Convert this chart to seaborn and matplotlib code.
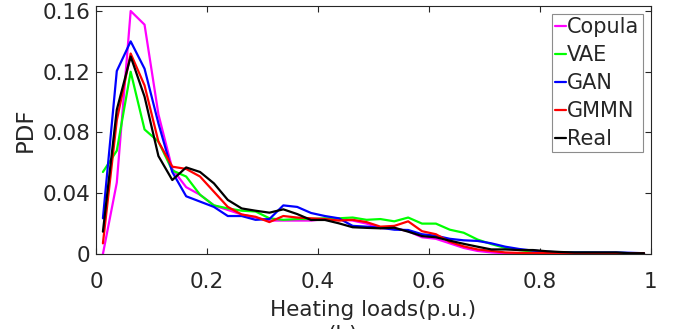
import numpy as np
import pandas as pd
import matplotlib
matplotlib.use("Agg")
import matplotlib.pyplot as plt
import seaborn as sns

# bin centres of the heating load histogram (40 bins on [0, 1])
load = np.arange(40) * 0.025 + 0.0125

copula = [0.000, 0.047, 0.160, 0.151, 0.092, 0.056, 0.044, 0.039, 0.032, 0.029,
          0.026, 0.024, 0.022, 0.022, 0.022, 0.022, 0.023, 0.023, 0.022, 0.020,
          0.017, 0.017, 0.015, 0.011, 0.010, 0.007, 0.004, 0.002, 0.001, 0.0005,
          0.0005, 0.0005, 0.0005, 0.0005, 0.0005, 0.0005, 0.0005, 0.0005, 0.0004, 0.0003]
vae = [0.054, 0.068, 0.120, 0.082, 0.074, 0.055, 0.051, 0.039, 0.032, 0.030,
       0.0285, 0.028, 0.0235, 0.0225, 0.023, 0.023, 0.0235, 0.0235, 0.024, 0.0225,
       0.023, 0.0215, 0.024, 0.020, 0.020, 0.016, 0.014, 0.0095, 0.0065, 0.004,
       0.0026, 0.0015, 0.001, 0.001, 0.001, 0.001, 0.0008, 0.0008, 0.0005, 0.0005]
gan = [0.0235, 0.1205, 0.140, 0.122, 0.086, 0.054, 0.038, 0.0345, 0.031, 0.025,
       0.025, 0.0225, 0.023, 0.032, 0.031, 0.027, 0.025, 0.0235, 0.0185, 0.018,
       0.0173, 0.016, 0.0158, 0.013, 0.012, 0.010, 0.009, 0.0086, 0.007, 0.0048,
       0.0033, 0.0022, 0.0015, 0.001, 0.001, 0.001, 0.001, 0.001, 0.0008, 0.0005]
gmmn = [0.007, 0.088, 0.132, 0.111, 0.074, 0.0575, 0.056, 0.051, 0.041, 0.031,
        0.026, 0.0245, 0.021, 0.025, 0.024, 0.0235, 0.023, 0.022, 0.0225, 0.021,
        0.018, 0.0185, 0.0215, 0.015, 0.013, 0.008, 0.005, 0.003, 0.002, 0.001,
        0.0007, 0.0007, 0.0007, 0.0007, 0.0006, 0.0006, 0.0006, 0.0005, 0.0005, 0.0005]
real = [0.0147, 0.095, 0.130, 0.1036, 0.0645, 0.0487, 0.057, 0.054, 0.0465, 0.0356,
        0.030, 0.0285, 0.0272, 0.0294, 0.0263, 0.0224, 0.0224, 0.0202, 0.0176, 0.0172,
        0.0169, 0.0173, 0.0147, 0.0118, 0.011, 0.0088, 0.0067, 0.0048, 0.003, 0.003,
        0.0026, 0.0026, 0.0018, 0.0013, 0.001, 0.001, 0.001, 0.001, 0.0005, 0.0005]

models = ["Copula", "VAE", "GAN", "GMMN", "Real"]
colors = ["#ff00ff", "#00ff00", "#0000ff", "#ff0000", "#000000"]
xticks = [0, 0.2, 0.4, 0.6, 0.8, 1]
xticklabels = ["0", "0.2", "0.4", "0.6", "0.8", "1"]
yticks = [0, 0.04, 0.08, 0.12, 0.16]
yticklabels = ["0", "0.04", "0.08", "0.12", "0.16"]

df = pd.DataFrame({
    "load": np.tile(load, len(models)),
    "pdf": np.concatenate([copula, vae, gan, gmmn, real]),
    "model": np.repeat(models, len(load)),
})

sns.set_style("ticks")
plt.rcParams["font.family"] = ["DejaVu Sans"]

fig = plt.figure(figsize=(6.75, 3.29), dpi=100)
ax = fig.add_axes([0.1422, 0.228, 0.8222, 0.7538])

sns.lineplot(data=df, x="load", y="pdf", hue="model", hue_order=models,
             palette=colors, linewidth=1.6, ax=ax)

ax.set_xlim(0, 1)
ax.set_ylim(0, 0.1633)
ax.set_xticks(xticks)
ax.set_xticklabels(xticklabels)
ax.set_yticks(yticks)
ax.set_yticklabels(yticklabels)
ax.tick_params(direction="in", length=4.5, width=0.8, top=True, right=True,
               labelsize=15.5, colors="#262626")
ax.tick_params(axis="x", pad=13)
ax.tick_params(axis="y", pad=4)
for s in ax.spines.values():
    s.set_visible(True)
    s.set_linewidth(0.8)
    s.set_color("#262626")

ax.set_xlabel("Heating loads(p.u.)", fontsize=15.5, color="#262626", labelpad=6)
ax.set_ylabel("PDF", fontsize=16.5, color="#262626", labelpad=4)

h, l = ax.get_legend_handles_labels()
leg = ax.legend(h, l, loc="upper right", fontsize=15, handlelength=0.55,
                handletextpad=0.05, borderpad=0.15, labelspacing=0.38,
                borderaxespad=0.4, fancybox=False, framealpha=1)
leg.get_frame().set_edgecolor("#8c8c8c")
leg.get_frame().set_linewidth(0.8)

fig.text(0.507, 0.012, "(b)", fontsize=15.5, color="#262626", ha="center", va="top")

fig.savefig("out.png", dpi=100)
